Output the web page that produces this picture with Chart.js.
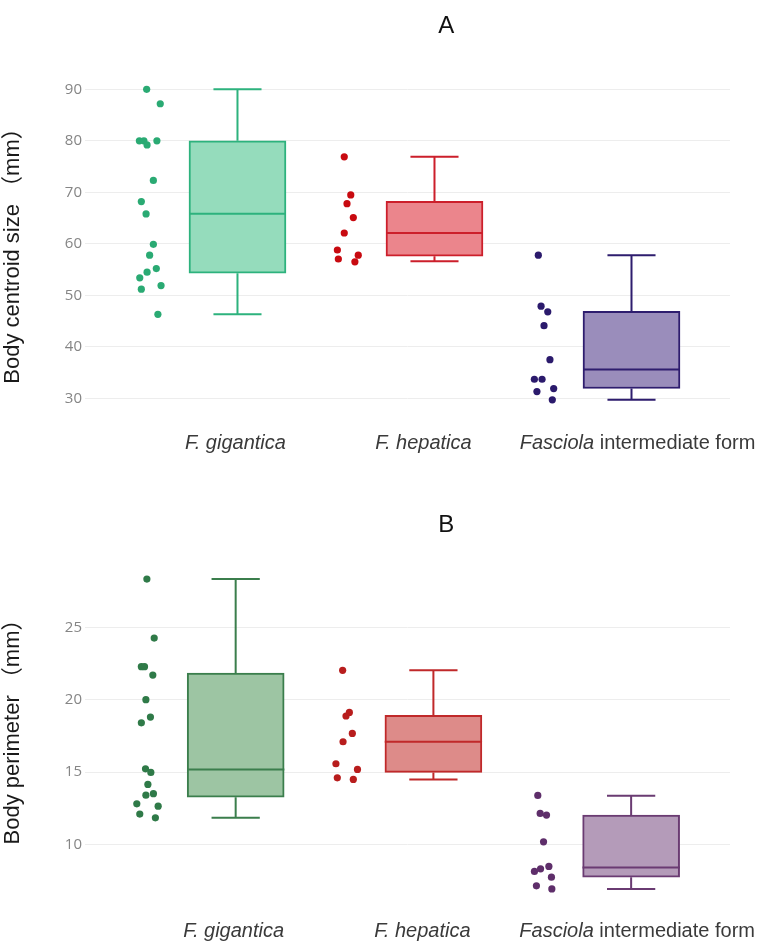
<!DOCTYPE html>
<html><head><meta charset="utf-8">
<script src="https://cdn.jsdelivr.net/npm/chart.js@4/dist/chart.umd.min.js"></script>
<style>
html,body{margin:0;padding:0;background:#fff;}
#wrapA{position:absolute;left:0;top:0;width:769px;height:470px;}
#wrapB{position:absolute;left:0;top:470px;width:769px;height:479px;}
</style></head><body>
<div id="wrapA"><canvas id="chartA"></canvas></div>
<div id="wrapB"><canvas id="chartB"></canvas></div>
<script>
// ---------- data ----------
const categories = ['F. gigantica', 'F. hepatica', 'Fasciola intermediate form'];
const italicParts = ['F. gigantica', 'F. hepatica', 'Fasciola'];
const titleA = 'A';
const titleB = 'B';
const yTitleA = 'Body centroid size （mm）';
const yTitleB = 'Body perimeter （mm）';
const yTicksA = [30, 40, 50, 60, 70, 80, 90];
const yTicksB = [10, 15, 20, 25];

// Panel A: body centroid size (mm), individual specimens
const centroidGigantica = [90, 87.2, 80, 80, 79.2, 80, 72.3, 68.2, 65.8, 59.9, 57.8, 54.5, 55.2, 53.4, 51.2, 51.9, 46.3];
const centroidHepatica = [76.9, 69.5, 67.8, 65.1, 62.1, 58.8, 57.05, 57.8, 56.5];
const centroidIntermediate = [57.8, 47.9, 46.8, 44.1, 37.5, 33.7, 33.7, 31.3, 31.9, 29.7];
// horizontal jitter of each dot (category units)
const jitterCentroidGigantica = [-0.011, 0.058, -0.048, -0.025, -0.009, 0.041, 0.023, -0.038, -0.014, 0.023, 0.004, -0.009, 0.038, -0.046, -0.038, 0.062, 0.046];
const jitterCentroidHepatica = [-0.008, 0.025, 0.006, 0.038, -0.008, -0.043, -0.038, 0.063, 0.046];
const jitterCentroidIntermediate = [-0.023, -0.009, 0.025, 0.006, 0.036, -0.043, -0.004, -0.030, 0.055, 0.048];
// box statistics per category
const centroidMin = [46.3, 56.6, 29.7];
const centroidQ1 = [54.3, 57.6, 31.9];
const centroidMedian = [65.85, 62.1, 35.6];
const centroidQ3 = [80, 68.25, 46.9];
const centroidMax = [90, 76.9, 57.8];

// Panel B: body perimeter (mm)
const perimeterGigantica = [28.34, 24.26, 22.28, 22.28, 21.7, 20.0, 18.8, 18.4, 15.22, 14.97, 14.14, 13.4, 13.5, 12.8, 12.64, 12.09, 11.83];
const perimeterHepatica = [22.03, 19.12, 18.87, 17.67, 17.09, 15.57, 15.18, 14.6, 14.49];
const perimeterIntermediate = [13.38, 12.14, 12.02, 10.17, 8.13, 8.31, 8.47, 7.73, 7.13, 6.92];
const jitterPerimeterGigantica = [0.001, 0.038, -0.027, -0.011, 0.031, -0.004, 0.019, -0.027, -0.006, 0.021, 0.006, -0.004, 0.034, -0.050, 0.058, -0.035, 0.044];
const jitterPerimeterHepatica = [-0.009, 0.025, 0.008, 0.040, -0.007, -0.043, 0.066, -0.036, 0.045];
const jitterPerimeterIntermediate = [-0.022, -0.010, 0.022, 0.007, -0.039, -0.008, 0.034, 0.047, -0.029, 0.049];
const perimeterMin = [11.83, 14.49, 6.92];
const perimeterQ1 = [13.26, 14.97, 7.73];
const perimeterMedian = [15.18, 17.09, 8.4];
const perimeterQ3 = [21.84, 18.91, 12.02];
const perimeterMax = [28.34, 22.03, 13.35];

// ---------- styling ----------
const FONT = "'Liberation Sans', Arial, 'Noto Sans CJK SC', sans-serif";
const TICKFONT = "'Open Sans', 'Liberation Sans', sans-serif";
const POINT_POS = -0.45;   // dots drawn to the left of each box
const BOX_HALF = 0.246;    // half box width, category units
const CAP_HALF = 0.122;    // half whisker-cap width
const LABEL_NUDGE = [-2, -11, 6]; // px shift of category labels

function whiskerData(i, mn, q1, md, q3, mx) {
  return [
    {x: i - BOX_HALF, y: md}, {x: i + BOX_HALF, y: md}, {x: i, y: null},
    {x: i, y: q3}, {x: i, y: mx}, {x: i, y: null},
    {x: i - CAP_HALF, y: mx}, {x: i + CAP_HALF, y: mx}, {x: i, y: null},
    {x: i, y: q1}, {x: i, y: mn}, {x: i, y: null},
    {x: i - CAP_HALF, y: mn}, {x: i + CAP_HALF, y: mn}
  ];
}

const panelPlugin = {
  id: 'panelText',
  afterDraw(chart, args, o) {
    const ctx = chart.ctx, ca = chart.chartArea, xs = chart.scales.x;
    ctx.save();
    // panel title
    ctx.fillStyle = '#111';
    ctx.font = '24px ' + FONT;
    ctx.textAlign = 'center';
    ctx.textBaseline = 'middle';
    ctx.fillText(o.title, ca.left + 0.56 * (ca.right - ca.left), o.titleY);
    // y-axis title (rotated)
    ctx.save();
    ctx.translate(13, (ca.top + ca.bottom) / 2 + o.yTitleShift);
    ctx.rotate(-Math.PI / 2);
    ctx.fillStyle = '#1a1a1a';
    ctx.font = '22px ' + FONT;
    ctx.fillText(o.yTitle, 0, 0);
    ctx.restore();
    // category labels (italic genus/species part)
    ctx.fillStyle = '#3a3a3a';
    ctx.textAlign = 'left';
    const y = ca.bottom + o.labelGap;
    categories.forEach((lab, i) => {
      const it = italicParts[i];
      const rest = lab.slice(it.length);
      ctx.font = 'italic 20px ' + FONT;
      const w1 = ctx.measureText(it).width;
      ctx.font = '20px ' + FONT;
      const w2 = ctx.measureText(rest).width;
      const cx = xs.getPixelForValue(i) + LABEL_NUDGE[i];
      const x0 = cx - (w1 + w2) / 2;
      ctx.font = 'italic 20px ' + FONT;
      ctx.fillText(it, x0, y);
      ctx.font = '20px ' + FONT;
      ctx.fillText(rest, x0 + w1, y);
    });
    ctx.restore();
  }
};

function makeChart(id, cfg) {
  const datasets = [];
  datasets.push({
    type: 'bar',
    data: [0, 1, 2].map(i => ({x: i, y: [cfg.q1[i], cfg.q3[i]]})),
    backgroundColor: cfg.fills,
    borderColor: cfg.lines,
    borderWidth: 2,
    borderSkipped: false,
    barThickness: 97,
    order: 3
  });
  [0, 1, 2].forEach(i => {
    datasets.push({
      type: 'line',
      data: whiskerData(i, cfg.min[i], cfg.q1[i], cfg.med[i], cfg.q3[i], cfg.max[i]),
      borderColor: cfg.lines[i],
      borderWidth: 2,
      pointRadius: 0,
      spanGaps: false,
      fill: false,
      order: 1
    });
    datasets.push({
      type: 'scatter',
      data: cfg.values[i].map((v, k) => ({x: i + POINT_POS + cfg.jitter[i][k], y: v})),
      backgroundColor: cfg.points[i],
      borderWidth: 0,
      pointRadius: 3.6,
      order: 2
    });
  });
  return new Chart(document.getElementById(id), {
    type: 'scatter',
    data: {datasets},
    plugins: [panelPlugin],
    options: {
      responsive: true,
      maintainAspectRatio: false,
      animation: false,
      events: [],
      layout: {padding: {left: 0, right: 39, top: cfg.padTop, bottom: cfg.padBottom}},
      plugins: {
        legend: {display: false},
        tooltip: {enabled: false},
        panelText: {title: cfg.title, titleY: cfg.titleY, labelGap: 33,
                    yTitle: cfg.yTitle, yTitleShift: cfg.yTitleShift}
      },
      scales: {
        x: {type: 'linear', display: false, offset: false, grid: {offset: false}, min: cfg.xMin, max: 2.5},
        y: {
          type: 'linear', min: cfg.yMin, max: cfg.yMax, beginAtZero: false,
          afterBuildTicks: s => { s.ticks = cfg.ticks.map(v => ({value: v})); },
          afterFit: s => { s.width = 85; },
          grid: {color: '#ededed', lineWidth: 1, drawTicks: false},
          border: {display: false},
          ticks: {padding: 3, color: '#858585', font: {family: TICKFONT, size: 15}},
          title: {display: false}
        }
      }
    }
  });
}

makeChart('chartA', {
  title: titleA, titleY: 26, padTop: 75, padBottom: 60, yTitleShift: 8,
  yMin: 27.73, yMax: 92.78, xMin: -0.774, ticks: yTicksA, yTitle: yTitleA,
  values: [centroidGigantica, centroidHepatica, centroidIntermediate],
  jitter: [jitterCentroidGigantica, jitterCentroidHepatica, jitterCentroidIntermediate],
  min: centroidMin, q1: centroidQ1, med: centroidMedian, q3: centroidQ3, max: centroidMax,
  lines: ['#2db27d', '#cc1f2b', '#2e1d6e'],
  fills: ['#95dcbc', '#eb858c', '#9a8dbb'],
  points: ['#2aaa73', '#c80a10', '#2b1a6c']
});

makeChart('chartB', {
  title: titleB, titleY: 55.5, padTop: 95, padBottom: 51, yTitleShift: -5,
  yMin: 6.29, yMax: 29.31, xMin: -0.762, ticks: yTicksB, yTitle: yTitleB,
  values: [perimeterGigantica, perimeterHepatica, perimeterIntermediate],
  jitter: [jitterPerimeterGigantica, jitterPerimeterHepatica, jitterPerimeterIntermediate],
  min: perimeterMin, q1: perimeterQ1, med: perimeterMedian, q3: perimeterQ3, max: perimeterMax,
  lines: ['#3b7e4c', '#c0292a', '#6a3b72'],
  fills: ['#9dc5a3', '#dd8b89', '#b49bb9'],
  points: ['#2f7a48', '#b81d1d', '#5e2e6a']
});
</script>
</body></html>
